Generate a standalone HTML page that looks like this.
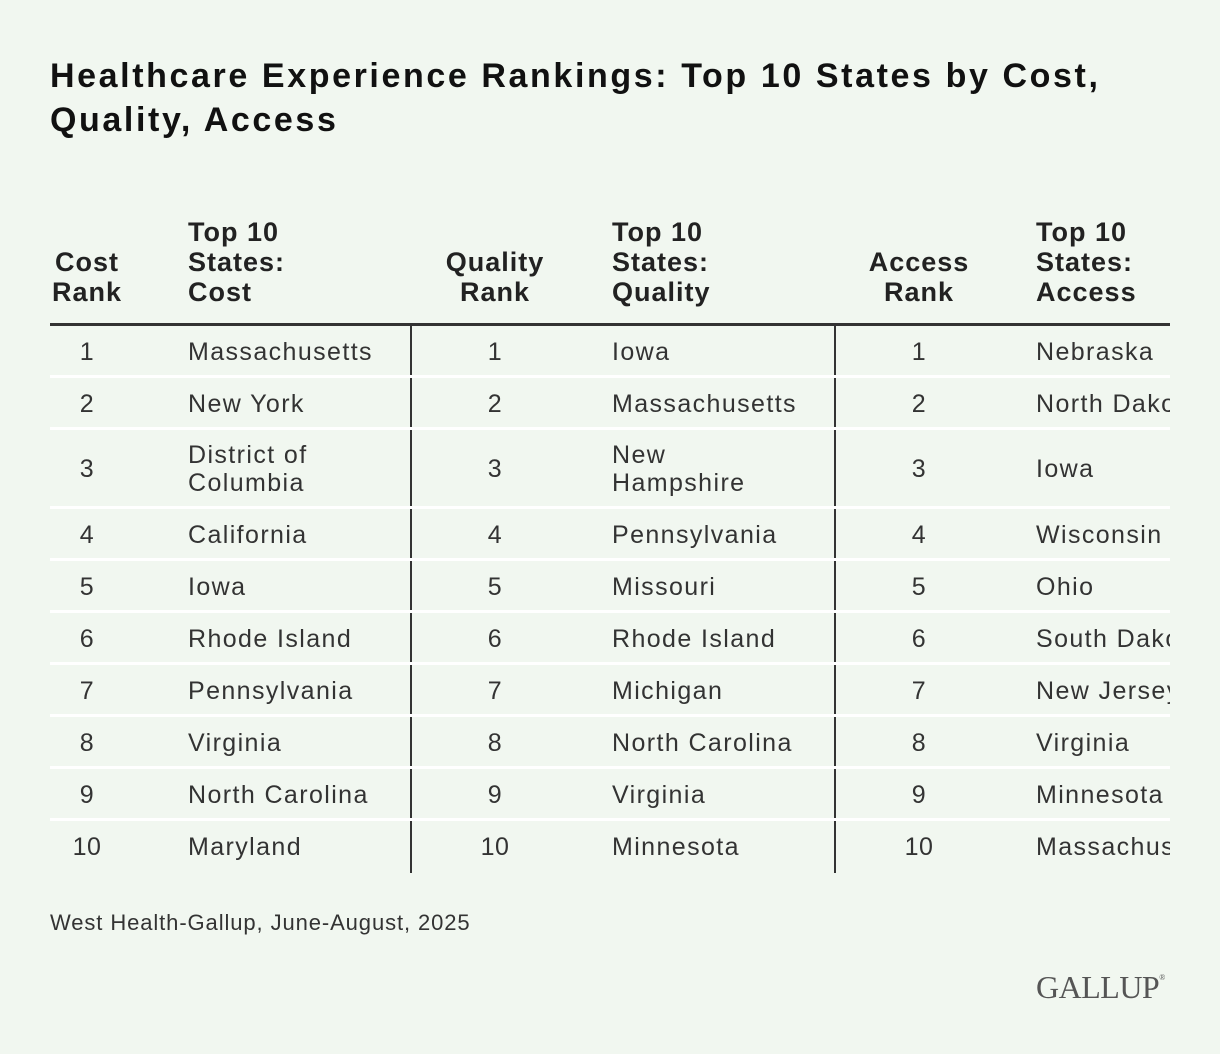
<!DOCTYPE html>
<html><head><meta charset="utf-8"><style>
body{margin:0;background:#f1f7f0;font-family:"Liberation Sans",sans-serif;color:#333;}
#wrap{position:relative;width:1220px;height:1054px;overflow:hidden;background:#f1f7f0;}
.t{position:absolute;white-space:nowrap;}
h1{position:absolute;left:50px;top:54px;margin:0;font-size:34px;line-height:44px;font-weight:bold;color:#111;letter-spacing:2.6px;white-space:nowrap;}
.hd{position:absolute;font-weight:bold;font-size:27px;line-height:30px;color:#222;letter-spacing:1px;}
.cell{position:absolute;font-size:25px;line-height:28px;color:#333;white-space:nowrap;letter-spacing:1.4px;}
#clip{position:absolute;left:0;top:0;width:1170px;height:1054px;overflow:hidden;}
</style></head><body>
<div id="wrap">
<h1>Healthcare Experience Rankings: Top 10 States by Cost,<br>Quality, Access</h1>
<div id="clip">
<div class="hd" style="left:27px;width:120px;text-align:center;top:247px">Cost<br>Rank</div>
<div class="hd" style="left:188px;top:217px">Top 10<br>States:<br>Cost</div>
<div class="hd" style="left:425px;width:140px;text-align:center;top:247px">Quality<br>Rank</div>
<div class="hd" style="left:612px;top:217px">Top 10<br>States:<br>Quality</div>
<div class="hd" style="left:849px;width:140px;text-align:center;top:247px">Access<br>Rank</div>
<div class="hd" style="left:1036px;top:217px">Top 10<br>States:<br>Access</div>
<div style="position:absolute;left:50px;top:323px;width:1130px;height:3px;background:#333"></div>
<div id="rows"></div>
</div>
<div class="t" style="left:50px;top:910px;font-size:22px;letter-spacing:0.9px;color:#333">West Health-Gallup, June-August, 2025</div>
<div class="t" style="left:1036px;top:969px;font-family:'Liberation Serif',serif;font-size:32px;color:#555;letter-spacing:-0.5px">GALLUP<span style="font-size:8px;vertical-align:top;position:relative;top:4px">®</span></div>
</div>
<script>
const ranks=["1","2","3","4","5","6","7","8","9","10"];
const costStates=["Massachusetts","New York","District of<br>Columbia","California","Iowa","Rhode Island","Pennsylvania","Virginia","North Carolina","Maryland"];
const qualityStates=["Iowa","Massachusetts","New<br>Hampshire","Pennsylvania","Missouri","Rhode Island","Michigan","North Carolina","Virginia","Minnesota"];
const accessStates=["Nebraska","North Dakota","Iowa","Wisconsin","Ohio","South Dakota","New Jersey","Virginia","Minnesota","Massachusetts"];
const rowsEl=document.getElementById('rows');
let y=326;
for(let i=0;i<ranks.length;i++){
  const two=[costStates[i],qualityStates[i],accessStates[i]].some(s=>s.includes('<br>'));
  const h=two?79:52;
  const cols=[[27,120,ranks[i],'cost-rank'],[188,0,costStates[i],'cost-state'],[425,140,ranks[i],'quality-rank'],[612,0,qualityStates[i],'quality-state'],[849,140,ranks[i],'access-rank'],[1036,0,accessStates[i],'access-state']];
  cols.forEach((c,j)=>{
    const d=document.createElement('div');
    d.className='cell';
    
    
    d.style.left=c[0]+'px';
    const lines=c[2].includes('<br>')?2:1;
    if(c[1]){d.style.width=c[1]+'px';d.style.textAlign='center';d.style.letterSpacing='0.5px';}
    d.style.top=(y+(h-3-28*lines)/2+1)+'px';
    d.innerHTML=c[2];
    rowsEl.appendChild(d);
  });
  [410,834].forEach(x=>{
    const v=document.createElement('div');
    
    
    v.style.cssText='position:absolute;left:'+x+'px;top:'+y+'px;width:2px;height:'+(i==ranks.length-1?h:h-3)+'px;background:#333';
    rowsEl.appendChild(v);
  });
  y+=h;
  if(i<ranks.length-1){
    const s=document.createElement('div');
    
    
    s.style.cssText='position:absolute;left:50px;top:'+(y-3)+'px;width:1130px;height:3px;background:#fff';
    rowsEl.appendChild(s);
  }
}
</script>
</body></html>
